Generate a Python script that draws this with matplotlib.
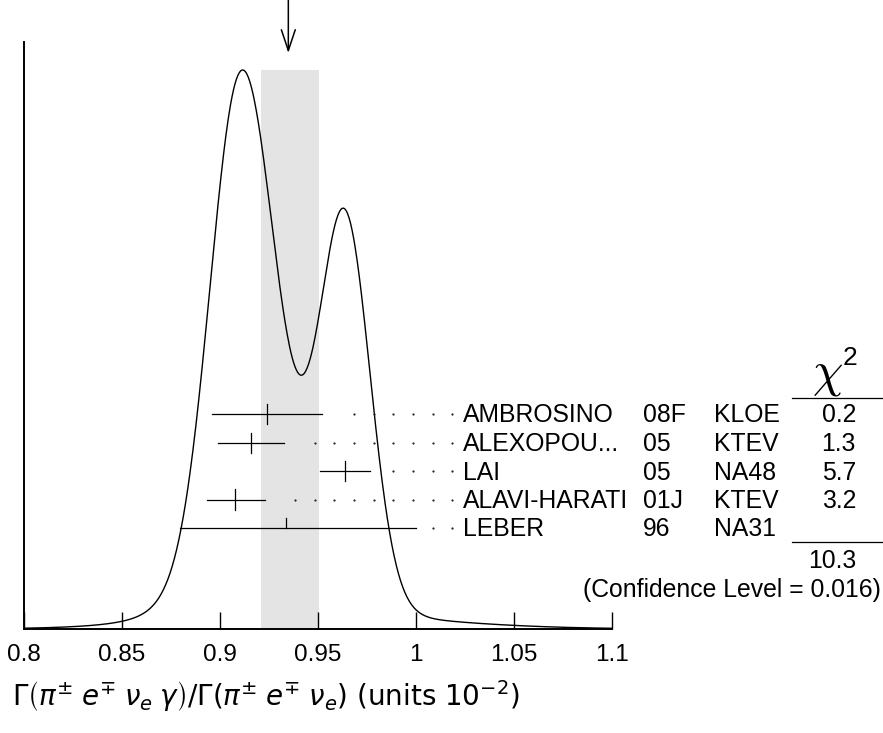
import numpy as np
import matplotlib
matplotlib.use("Agg")
import matplotlib.pyplot as plt
from matplotlib.patches import ArrowStyle

# measurements (units 10^-2)
names = ["AMBROSINO", "ALEXOPOU...", "LAI", "ALAVI-HARATI", "LEBER"]
years = ["08F", "05", "05", "01J", "96"]
experiments = ["KLOE", "KTEV", "NA48", "KTEV", "NA31"]
values = [0.924, 0.916, 0.964, 0.908, 0.934]
err_lo = [0.028, 0.017, 0.0128, 0.0144, 0.054]
err_hi = [0.028, 0.017, 0.0128, 0.0153, 0.066]
chi2 = ["0.2", "1.3", "5.7", "3.2", ""]
chi2_total = "10.3"
conf_level = "(Confidence Level = 0.016)"

mean_value = 0.935
band_lo = 0.921
band_hi = 0.9505

x_ticks = [0.8, 0.85, 0.9, 0.95, 1.0, 1.05, 1.1]
x_tick_labels = ["0.8", "0.85", "0.9", "0.95", "1", "1.05", "1.1"]

FONT = "Liberation Sans"
FS = 17.8
W, H = 883, 733

fig = plt.figure(figsize=(W / 100, H / 100), dpi=100)
ax = fig.add_axes([23.5 / W, (H - 629) / H, 588.5 / W, 587 / H])
ax.set_xlim(0.8, 1.1)
ax.set_ylim(0, 1)


def py(pix):
    # pixel row in the image -> axis y units
    return (629 - pix) / 587


def px(pix):
    # pixel column in the image -> x data units
    return 0.8 + (pix - 23.5) * 0.3 / 588.5


# ideogram: one gaussian per measurement, area ~ 1/sigma
xs = np.linspace(0.8, 1.1, 800)
curve = np.zeros_like(xs)
for v, lo, hi in zip(values, err_lo, err_hi):
    s = np.where(xs < v, lo, hi)
    sig = 0.5 * (lo + hi)
    curve += np.exp(-0.5 * ((xs - v) / s) ** 2) / sig ** 2
peak = py(70)
curve = curve / curve.max() * peak

ax.axvspan(band_lo, band_hi, ymin=0, ymax=peak, color="#e4e4e4", lw=0, zorder=0)
ax.plot(xs, curve, color="black", lw=1.0, zorder=3)

# error bars, dotted leaders and table rows
row_y0 = py(414)
row_step = py(414) - py(442.5)
dot_grid = np.arange(0.8885, 1.02, 0.01)
text_dy = 8.5 / 587
for i, (nm, yr, ex, v, lo, hi, c2) in enumerate(
    zip(names, years, experiments, values, err_lo, err_hi, chi2)
):
    y = row_y0 - i * row_step
    ax.plot([v - lo, v + hi], [y, y], color="black", lw=0.9, zorder=4)
    tick_top = y + 10 / 587
    tick_bot = y if i == len(names) - 1 else y - 10 / 587
    ax.plot([v, v], [tick_bot, tick_top], color="black", lw=0.9, zorder=4)
    dots = dot_grid[dot_grid >= v + hi + 0.008]
    ax.plot(dots, [y] * len(dots), ls="none", marker="o", ms=1.6,
            mfc="#222222", mec="none", zorder=4, clip_on=False)
    ty = y - text_dy
    ax.text(px(463), ty, nm, ha="left", va="baseline", fontsize=FS, family=FONT, clip_on=False)
    ax.text(px(643), ty, yr, ha="left", va="baseline", fontsize=FS, family=FONT, clip_on=False)
    ax.text(px(714), ty, ex, ha="left", va="baseline", fontsize=FS, family=FONT, clip_on=False)
    if c2:
        ax.text(px(856), ty, c2, ha="right", va="baseline", fontsize=FS, family=FONT, clip_on=False)

# chi2 table decorations
ax.plot([px(792), px(884)], [py(398), py(398)], color="black", lw=0.9, clip_on=False)
ax.plot([px(792), px(884)], [py(542), py(542)], color="black", lw=0.9, clip_on=False)
ax.text(px(827), py(386), r"$\chi$", ha="center", va="baseline", fontsize=35,
        math_fontfamily="cm", clip_on=False)
ax.text(px(843), py(365), "2", ha="left", va="baseline", fontsize=19, family=FONT, clip_on=False)
ax.text(px(856), py(568), chi2_total, ha="right", va="baseline", fontsize=FS, family=FONT, clip_on=False)
ax.text(px(881), py(597), conf_level, ha="right", va="baseline", fontsize=FS, family=FONT, clip_on=False)

# arrow marking the average
ax.annotate("", xy=(mean_value, py(53)), xytext=(mean_value, py(0)),
            arrowprops=dict(arrowstyle=ArrowStyle("->", head_length=1.5, head_width=0.5),
                            mutation_scale=10, lw=1.1, color="black",
                            shrinkA=0, shrinkB=0),
            annotation_clip=False)

# axes styling
for side in ["top", "right"]:
    ax.spines[side].set_visible(False)
ax.spines["left"].set_linewidth(1.4)
ax.spines["bottom"].set_linewidth(1.4)
ax.set_yticks([])
ax.set_xticks(x_ticks)
ax.set_xticklabels(x_tick_labels, family=FONT, fontsize=17.5)
ax.tick_params(axis="x", direction="in", length=12, width=1.0, pad=11)

fig.text(12 / W, 1 - 696 / H,
         r"$\Gamma\left(\pi^{\pm}\;e^{\mp}\;\nu_e\;\gamma\right)/\Gamma\left(\pi^{\pm}\;e^{\mp}\;\nu_e\right)$ (units $10^{-2}$)",
         ha="left", va="center", fontsize=20, math_fontfamily="dejavusans", family="DejaVu Sans")

fig.savefig("out.png", dpi=100)
